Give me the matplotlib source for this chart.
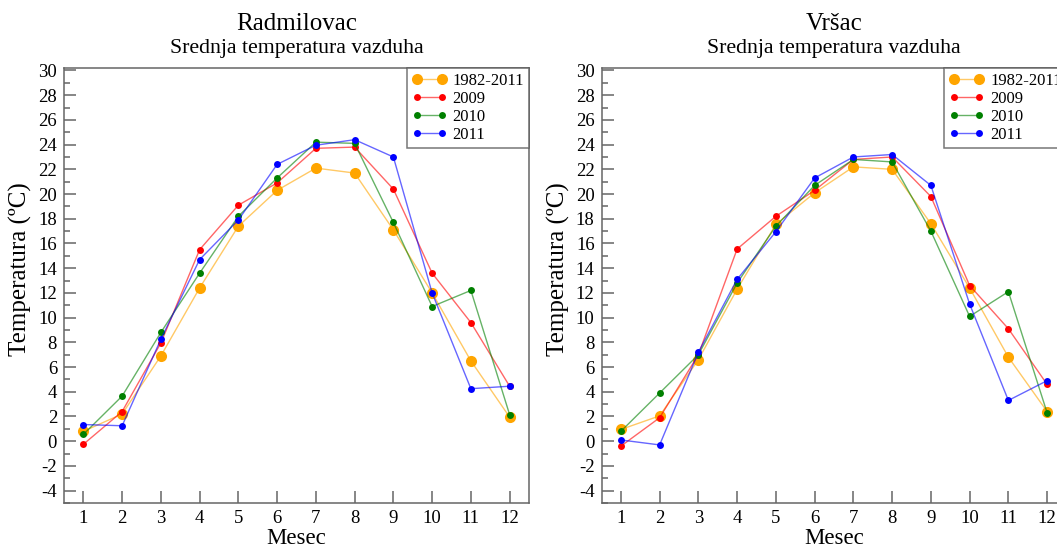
import numpy as np
import matplotlib.pyplot as plt
from matplotlib.ticker import MultipleLocator

plt.rcParams['font.family'] = ['Liberation Serif', 'DejaVu Serif']
plt.rcParams['axes.unicode_minus'] = False

months = list(range(1, 13))
series_labels = ['1982-2011', '2009', '2010', '2011']

# Radmilovac
rad_1982_2011 = [0.8, 2.2, 6.9, 12.4, 17.4, 20.3, 22.1, 21.7, 17.1, 12.0, 6.5, 1.95]
rad_2009 = [-0.25, 2.4, 7.95, 15.5, 19.1, 20.9, 23.7, 23.8, 20.4, 13.6, 9.6, 4.45]
rad_2010 = [0.55, 3.65, 8.8, 13.6, 18.2, 21.3, 24.2, 24.1, 17.7, 10.9, 12.2, 2.15]
rad_2011 = [1.35, 1.25, 8.25, 14.7, 17.9, 22.4, 23.95, 24.4, 23.0, 12.0, 4.25, 4.45]

# Vrsac
vrs_1982_2011 = [0.95, 2.05, 6.6, 12.3, 17.55, 20.1, 22.2, 22.0, 17.6, 12.4, 6.8, 2.4]
vrs_2009 = [-0.4, 1.9, 7.0, 15.55, 18.2, 20.3, 22.8, 23.0, 19.8, 12.6, 9.1, 4.6]
vrs_2010 = [0.8, 3.9, 7.0, 12.8, 17.4, 20.7, 22.8, 22.6, 17.0, 10.1, 12.1, 2.3]
vrs_2011 = [0.1, -0.3, 7.2, 13.1, 16.95, 21.3, 23.0, 23.2, 20.7, 11.1, 3.3, 4.9]

colors = ['#ffa500', '#ff0000', '#008000', '#0000ff']
line_alpha = [0.6, 0.6, 0.6, 0.6]
msizes = [8, 5, 5, 5]

axis_grey = '#666666'

fig = plt.figure(figsize=(10.57, 5.44), dpi=100)


def draw_panel(ax, station, data):
    for vals, lab, c, a, ms in zip(data, series_labels, colors, line_alpha, msizes):
        rgba = plt.matplotlib.colors.to_rgba(c, a)
        ax.plot(months, vals, color=rgba, lw=1.0, marker='o', ms=ms,
                mfc=c, mec=c, mew=0, label=lab)
    ax.set_xlim(0.5, 12.5)
    ax.set_ylim(-5, 30.2)
    ax.set_xticks(months)
    ax.yaxis.set_major_locator(MultipleLocator(2))
    ax.yaxis.set_minor_locator(MultipleLocator(1))
    ax.set_yticks(np.arange(-4, 31, 2))
    ax.tick_params(which='both', direction='in', colors=axis_grey, labelcolor='black',
                   labelsize=13.5, width=1.1, top=False, right=False)
    ax.tick_params(which='major', length=8.6, pad=5)
    ax.tick_params(which='minor', length=4.3)
    for s in ax.spines.values():
        s.set_color(axis_grey)
        s.set_linewidth(1.1)
    ax.set_xlabel('Mesec', fontsize=16.5)
    ax.set_ylabel('Temperatura (ºC)', fontsize=18)
    ax.xaxis.set_label_coords(0.5, -0.057)
    ax.yaxis.set_label_coords(-0.068, 0.538)
    ax.text(0.5, 1.0 + 44 / 435, station, transform=ax.transAxes,
            ha='center', va='center', fontsize=18)
    ax.text(0.5, 1.0 + 20 / 435, 'Srednja temperatura vazduha', transform=ax.transAxes,
            ha='center', va='center', fontsize=15.7)
    leg = ax.legend(loc='upper right', numpoints=2, fontsize=12, frameon=True,
                    fancybox=False, borderaxespad=0, handlelength=2.1,
                    handletextpad=0.36, labelspacing=0.12, borderpad=0.3)
    leg.get_frame().set_edgecolor('#555555')
    leg.get_frame().set_linewidth(1.1)


ax1 = fig.add_axes([64 / 1057, 1 - 503 / 544, 465 / 1057, 435 / 544])
draw_panel(ax1, 'Radmilovac', [rad_1982_2011, rad_2009, rad_2010, rad_2011])

ax2 = fig.add_axes([601.5 / 1057, 1 - 503 / 544, 465 / 1057, 435 / 544])
draw_panel(ax2, 'Vršac', [vrs_1982_2011, vrs_2009, vrs_2010, vrs_2011])

fig.savefig('out.png', dpi=100)
